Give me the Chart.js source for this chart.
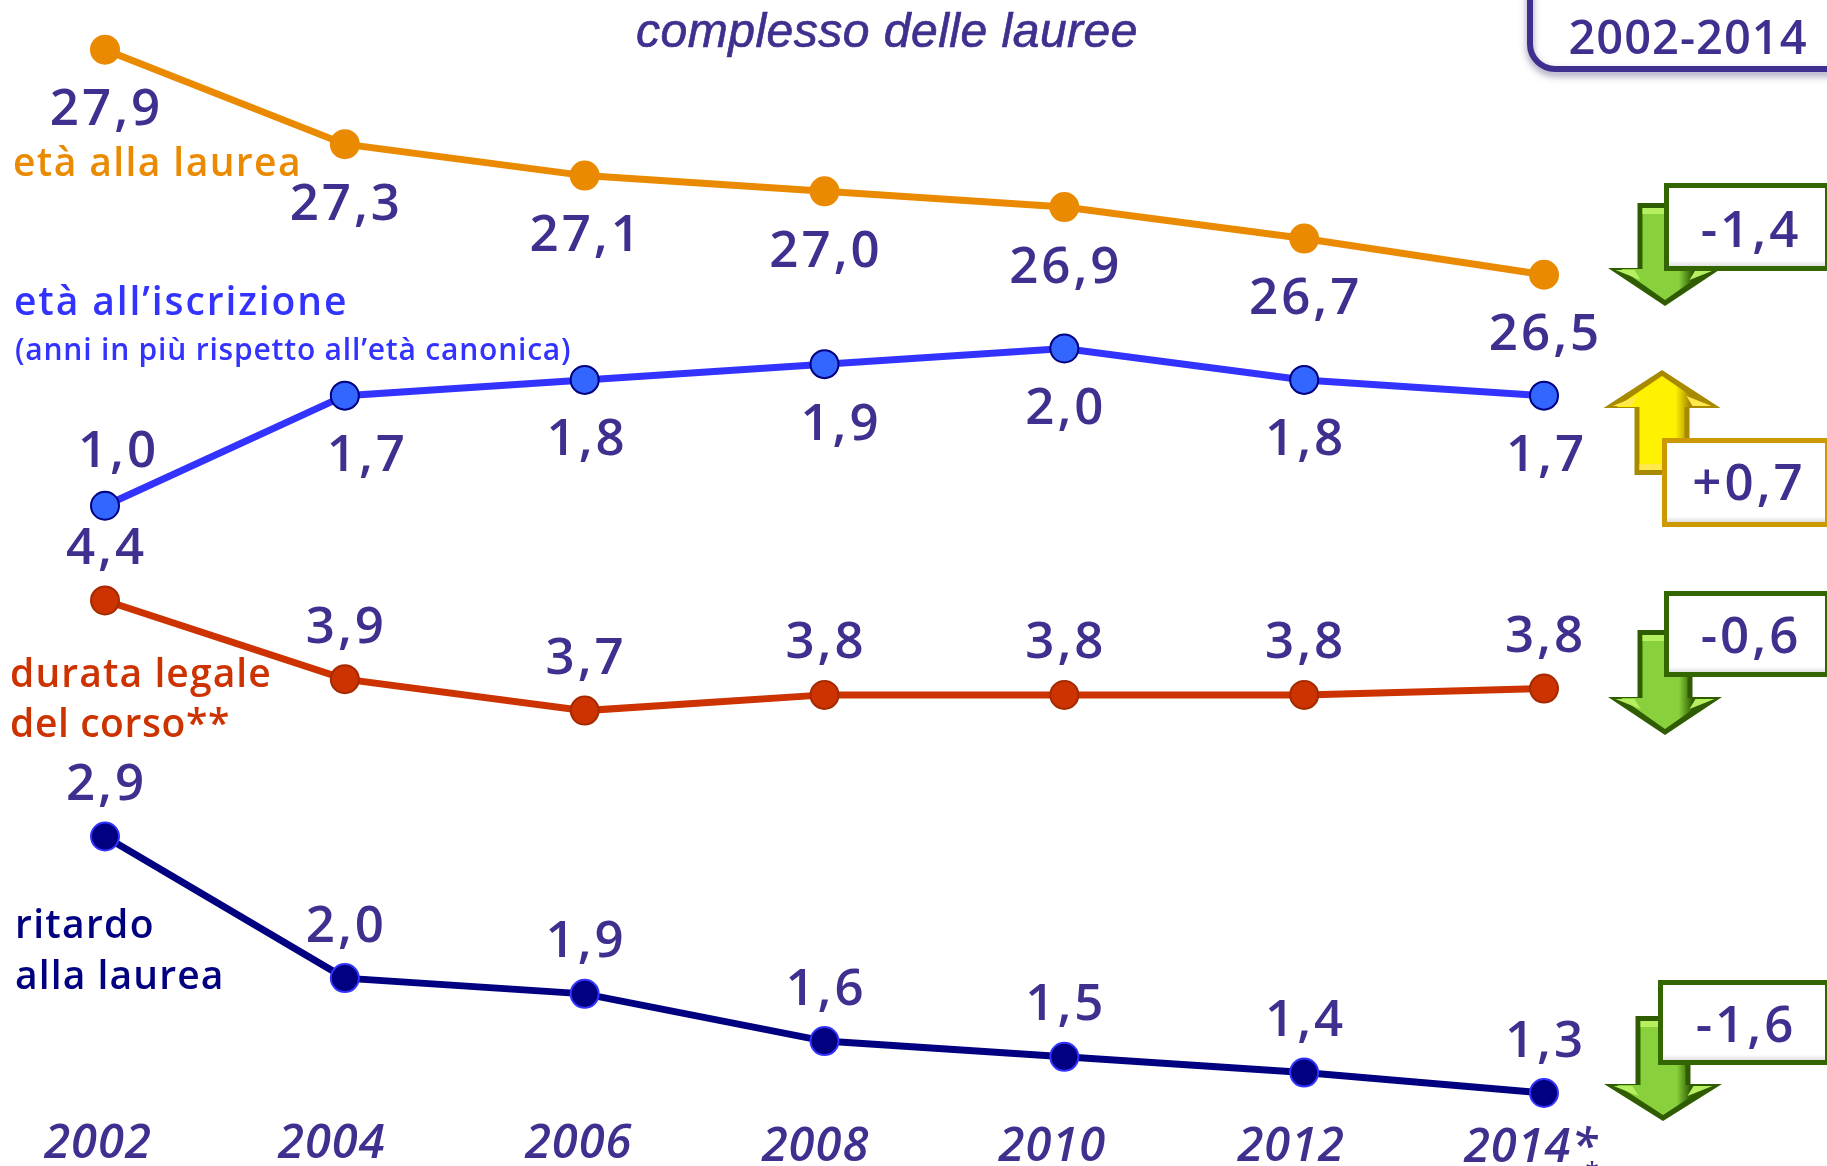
<!DOCTYPE html>
<html>
<head>
<meta charset="utf-8">
<title>età alla laurea</title>
<script src="https://cdn.jsdelivr.net/npm/chart.js@4/dist/chart.umd.min.js"></script>
<style>
    html, body { margin: 0; padding: 0; background: #fff; overflow: hidden; }
</style>
</head>
<body>
<canvas id="chart" width="1827" height="1166"></canvas>
<script>
// values
const years = ["2002", "2004", "2006", "2008", "2010", "2012", "2014*"];
const etaLaurea = [27.9, 27.3, 27.1, 27.0, 26.9, 26.7, 26.47];
const etaIscrizione = [1.0, 1.7, 1.8, 1.9, 2.0, 1.8, 1.7];
const durataLegale = [4.4, 3.9, 3.7, 3.8, 3.8, 3.8, 3.84];
const ritardo = [2.9, 2.0, 1.9, 1.6, 1.5, 1.4, 1.27];

const BLUE_TEXT = "#3f2f8f";
const FONT = "'Open Sans'";

function fmt(v) {
    return v.toFixed(1).replace(".", ",");
}

function text(ctx, str, x, y, font, color, align, spacing) {
    ctx.font = font;
    ctx.fillStyle = color;
    ctx.textAlign = align || "center";
    ctx.textBaseline = "middle";
    ctx.letterSpacing = spacing || "0px";
    ctx.fillText(str, x, y);
}

// value labels next to the points: dy per series, dx only where the label was moved by hand
const labelDy = { etaLaurea: 61, etaIscrizione: 61, durataLegale: -51, ritardo: -51 };
const labelDx = { etaIscrizione: [12, 21, 1, 15, 0, 0, 1] };

const valueLabels = {
    id: "valueLabels",
    afterDatasetsDraw(chart) {
        const ctx = chart.ctx;
        chart.data.datasets.forEach((ds, i) => {
            chart.getDatasetMeta(i).data.forEach((pt, j) => {
                let dy = labelDy[ds.key];
                if (ds.key === "etaIscrizione" && j === 0) dy = -53;
                const dx = labelDx[ds.key] ? labelDx[ds.key][j] : 0;
                text(ctx, fmt(ds.data[j]), pt.x + dx + 1.5, pt.y + dy, "600 51px " + FONT, BLUE_TEXT, "center", "3px");
            });
        });
    }
};

// year labels sit slightly off the points in the original, one text box each
const yearDx = [-7, -13, -6, -9, -12, -13, -13];
const yearY = [1145, 1145, 1145, 1148, 1148, 1148, 1149];

const yearLabels = {
    id: "yearLabels",
    afterDraw(chart) {
        const x = chart.scales.x;
        years.forEach((y, i) => {
            text(chart.ctx, y, x.getPixelForValue(i) + yearDx[i], yearY[i], "italic 600 47px " + FONT, BLUE_TEXT, "center", "1px");
        });
        text(chart.ctx, "*", 1592, 1172, "600 24px " + FONT, BLUE_TEXT);
    }
};

function seriesNames(ctx) {
    const big = "600 39px " + FONT;
    text(ctx, "età alla laurea", 13, 165, big, "#ea8a00", "left", "1.4px");
    text(ctx, "età all’iscrizione", 14, 304, big, "#3333ff", "left", "1.9px");
    text(ctx, "(anni in più rispetto all’età canonica)", 15, 351, "600 30px " + FONT, "#3333ff", "left", "0.8px");
    text(ctx, "durata legale", 10, 676, big, "#cc3300", "left", "1.1px");
    text(ctx, "del corso**", 10, 726, big, "#cc3300", "left", "0.6px");
    text(ctx, "ritardo", 15, 927, big, "#000080", "left", "1.3px");
    text(ctx, "alla laurea", 15, 978, big, "#000080", "left", "1.1px");
}

function arrowPath(ctx, cx, shaftW, wingW, shaftEnd, headBase, tip) {
    ctx.beginPath();
    ctx.moveTo(cx - shaftW / 2, shaftEnd);
    ctx.lineTo(cx + shaftW / 2, shaftEnd);
    ctx.lineTo(cx + shaftW / 2, headBase);
    ctx.lineTo(cx + wingW / 2, headBase);
    ctx.lineTo(cx, tip);
    ctx.lineTo(cx - wingW / 2, headBase);
    ctx.lineTo(cx - shaftW / 2, headBase);
    ctx.closePath();
}

function arrow(ctx, cx, shaftW, wingW, shaftEnd, headBase, tip, light, mid, dark) {
    const dir = tip > headBase ? 1 : -1;
    arrowPath(ctx, cx, shaftW, wingW, shaftEnd, headBase, tip);
    ctx.fillStyle = dark;
    ctx.fill();
    // inner face, a few px inside the dark edge
    const grad = ctx.createLinearGradient(cx - shaftW / 2, 0, cx + shaftW / 2, 0);
    grad.addColorStop(0, mid);
    grad.addColorStop(0.75, mid);
    grad.addColorStop(1, dark);
    arrowPath(ctx, cx, shaftW - 10, wingW - 26, shaftEnd + dir * 5, headBase + dir * 1, tip - dir * 6);
    ctx.fillStyle = grad;
    ctx.fill();
    // light strip at the open end of the shaft, and the shine on both wings
    ctx.fillStyle = light;
    ctx.fillRect(cx - shaftW / 2 + 5, shaftEnd + (dir > 0 ? 5 : -11), shaftW - 10, 6);
    [-1, 1].forEach((side) => {
        ctx.beginPath();
        ctx.moveTo(cx + side * (shaftW / 2 + 22), headBase + dir * 2);
        ctx.lineTo(cx + side * (shaftW / 2 + 3), headBase + dir * 2);
        ctx.lineTo(cx + side * (shaftW / 2 - 3), headBase + dir * 12);
        ctx.closePath();
        ctx.fill();
    });
}

function deltaBox(ctx, x, top, bottom, border, str, tx, ty) {
    ctx.fillStyle = border;
    ctx.fillRect(x, top, 1827 - x, bottom - top);
    const grad = ctx.createLinearGradient(0, top, 0, bottom);
    grad.addColorStop(0, "#ffffff");
    grad.addColorStop(0.88, "#ffffff");
    grad.addColorStop(1, "#c4c4c4");
    ctx.fillStyle = grad;
    ctx.fillRect(x + 5, top + 5, 1827 - x - 7, bottom - top - 10);
    text(ctx, str, tx, ty, "600 51px " + FONT, BLUE_TEXT, "center", "3px");
}

const decorations = {
    id: "decorations",
    beforeDatasetsDraw(chart) {
        const ctx = chart.ctx;
        ctx.save();
        text(ctx, "complesso delle lauree", 887, 34, "italic 48px 'Liberation Sans'", BLUE_TEXT, "center", "0.5px");
        ctx.strokeStyle = BLUE_TEXT;
        ctx.lineWidth = 0.7;
        ctx.strokeText("complesso delle lauree", 887, 34);

        // period box, top right
        ctx.save();
        ctx.shadowColor = "rgba(60,50,110,0.5)";
        ctx.shadowBlur = 7;
        ctx.shadowOffsetY = 4;
        ctx.strokeStyle = "#3f2f8f";
        ctx.lineWidth = 6;
        ctx.beginPath();
        ctx.moveTo(1530, -10);
        ctx.lineTo(1530, 44);
        ctx.arcTo(1530, 69, 1555, 69, 25);
        ctx.lineTo(1840, 69);
        ctx.stroke();
        ctx.restore();
        text(ctx, "2002-2014", 1688, 41, "600 47px " + FONT, BLUE_TEXT, "center", "1px");

        seriesNames(ctx);

        const g = ["#b6f060", "#88d13c", "#2f5c00"];
        const y = ["#ffe94d", "#fff200", "#a88a00"];
        arrow(ctx, 1665, 55, 114, 203, 268, 306, g[0], g[1], g[2]);
        deltaBox(ctx, 1664, 183, 271, "#336600", "-1,4", 1751, 232);
        arrow(ctx, 1662, 55, 117, 475, 408, 370, y[0], y[1], y[2]);
        deltaBox(ctx, 1662, 438, 527, "#cc9900", "+0,7", 1749, 485);
        arrow(ctx, 1665, 55, 114, 630, 697, 735, g[0], g[1], g[2]);
        deltaBox(ctx, 1664, 591, 677, "#336600", "-0,6", 1751, 638);
        arrow(ctx, 1663, 55, 118, 1016, 1084, 1121, g[0], g[1], g[2]);
        deltaBox(ctx, 1658, 980, 1065, "#336600", "-1,6", 1746, 1027);
        ctx.restore();
    }
};

function series(key, label, data, yAxisID, line, fill, border) {
    return {
        key: key,
        label: label,
        data: data,
        yAxisID: yAxisID,
        borderColor: line,
        borderWidth: 7,
        tension: 0,
        clip: false,
        pointRadius: 14,
        pointBorderWidth: 2,
        pointBackgroundColor: fill,
        pointBorderColor: border
    };
}

// same px per unit on every axis, each series just shifted vertically
function yAxis(min, max) {
    return { display: false, min: min, max: max };
}

new Chart(document.getElementById("chart"), {
    type: "line",
    data: {
        labels: years,
        datasets: [
            series("etaLaurea", "età alla laurea", etaLaurea, "yLaurea", "#ea8a00", "#ea8a00", "#ea8a00"),
            series("etaIscrizione", "età all’iscrizione", etaIscrizione, "yIscrizione", "#3333ff", "#3366ff", "#000080"),
            series("durataLegale", "durata legale del corso", durataLegale, "yDurata", "#cc3300", "#cc3300", "#a52a00"),
            series("ritardo", "ritardo alla laurea", ritardo, "yDurata", "#000080", "#000080", "#3333ff")
        ]
    },
    plugins: [decorations, valueLabels, yearLabels],
    options: {
        responsive: false,
        animation: false,
        layout: { autoPadding: false, padding: { left: 105, right: 283, top: 0, bottom: 0 } },
        plugins: { legend: { display: false }, tooltip: { enabled: false } },
        scales: {
            x: { display: false, offset: false },
            yLaurea: yAxis(20.806, 28.216),
            yIscrizione: yAxis(-3.197, 4.215),
            yDurata: yAxis(0.806, 8.216)
        }
    }
});
</script>
</body>
</html>
